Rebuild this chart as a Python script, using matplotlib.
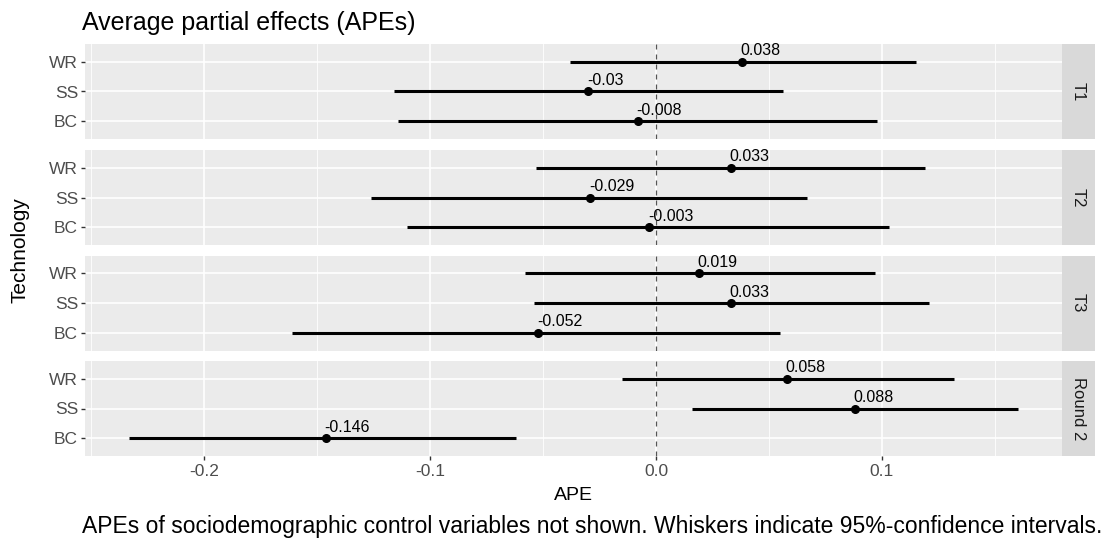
import numpy as np
import matplotlib
matplotlib.use("Agg")
import matplotlib.pyplot as plt

plt.rcParams["font.family"] = ["Liberation Sans", "DejaVu Sans"]

# data (rows: BC, SS, WR from bottom to top)
panels = ["T1", "T2", "T3", "Round 2"]
techs = ["BC", "SS", "WR"]

ape_t1 = [-0.008, -0.030, 0.038]
lo_t1 = [-0.114, -0.116, -0.038]
hi_t1 = [0.098, 0.056, 0.115]

ape_t2 = [-0.003, -0.029, 0.033]
lo_t2 = [-0.110, -0.126, -0.053]
hi_t2 = [0.103, 0.067, 0.119]

ape_t3 = [-0.052, 0.033, 0.019]
lo_t3 = [-0.161, -0.054, -0.058]
hi_t3 = [0.055, 0.121, 0.097]

ape_r2 = [-0.146, 0.088, 0.058]
lo_r2 = [-0.233, 0.016, -0.015]
hi_r2 = [-0.062, 0.160, 0.132]

apes = [ape_t1, ape_t2, ape_t3, ape_r2]
los = [lo_t1, lo_t2, lo_t3, lo_r2]
his = [hi_t1, hi_t2, hi_t3, hi_r2]

W, H = 1113, 539
fig = plt.figure(figsize=(W / 100, H / 100), dpi=100)

# x limits with ggplot-like 5% expansion
xmin = min(min(l) for l in los)
xmax = max(max(h) for h in his)
pad = 0.05 * (xmax - xmin)
xlim = (xmin - pad, xmax + pad)

left, right = 85, 1062
strip_w = 33
tops = [44, 150, 255.5, 361]
ph = 95

def box(x0, y0, w, h):
    return [x0 / W, 1 - (y0 + h) / H, w / W, h / H]

bg = "#EBEBEB"
for i, name in enumerate(panels):
    ax = fig.add_axes(box(left, tops[i], right - left, ph))
    ax.set_facecolor(bg)
    for s in ax.spines.values():
        s.set_visible(False)
    ax.set_xlim(*xlim)
    ax.set_ylim(0.4, 3.6)
    ypos = np.arange(1, len(techs) + 1)

    # grid
    for xv in [-0.25, -0.15, -0.05, 0.05, 0.15]:
        ax.axvline(xv, color="white", lw=0.6, zorder=0)
    for xv in [-0.2, -0.1, 0.0, 0.1]:
        ax.axvline(xv, color="white", lw=1.2, zorder=0)
    for yv in ypos:
        ax.axhline(yv, color="white", lw=1.2, zorder=0)

    ax.axvline(0, color="#555555", lw=0.9, ls=(0, (4, 4)), zorder=1)

    ax.hlines(ypos, los[i], his[i], color="black", lw=2.2, zorder=2)
    ax.plot(apes[i], ypos, "o", color="black", ms=5.5, zorder=3)
    for v, y in zip(apes[i], ypos):
        ax.annotate(f"{v:g}", (v, y), xytext=(-1, 2.5), textcoords="offset points",
                    ha="left", va="bottom", fontsize=11.5, color="black", zorder=4)

    ax.set_yticks(ypos)
    ax.set_yticklabels(techs, fontsize=12.5, color="#4D4D4D")
    ax.tick_params(axis="y", length=3, width=1, color="#333333", pad=2)
    ax.set_xticks([-0.2, -0.1, 0.0, 0.1])
    if i == len(panels) - 1:
        ax.set_xticklabels(["-0.2", "-0.1", "0.0", "0.1"], fontsize=12.5, color="#4D4D4D")
        ax.tick_params(axis="x", length=3, width=1, color="#333333", pad=3)
    else:
        ax.tick_params(axis="x", length=0, labelbottom=False)

    sax = fig.add_axes(box(right, tops[i], strip_w, ph))
    sax.set_facecolor("#D9D9D9")
    sax.set_xticks([])
    sax.set_yticks([])
    for s in sax.spines.values():
        s.set_visible(False)
    sax.text(0.5, 0.5, name, rotation=-90, ha="center", va="center",
             fontsize=12, color="#1A1A1A", transform=sax.transAxes)

fig.text(82 / W, 1 - 23 / H, "Average partial effects (APEs)", fontsize=18,
         ha="left", va="center", color="black")
fig.text(20 / W, 1 - 250 / H, "Technology", fontsize=15, rotation=90,
         ha="center", va="center", color="black")
fig.text((left + right) / 2 / W, 1 - 495 / H, "APE", fontsize=14,
         ha="center", va="center", color="black")
fig.text(82 / W, 1 - 527 / H,
         "APEs of sociodemographic control variables not shown. Whiskers indicate 95%-confidence intervals.",
         fontsize=16.5, ha="left", va="center", color="black")

fig.savefig("out.png", dpi=100)
